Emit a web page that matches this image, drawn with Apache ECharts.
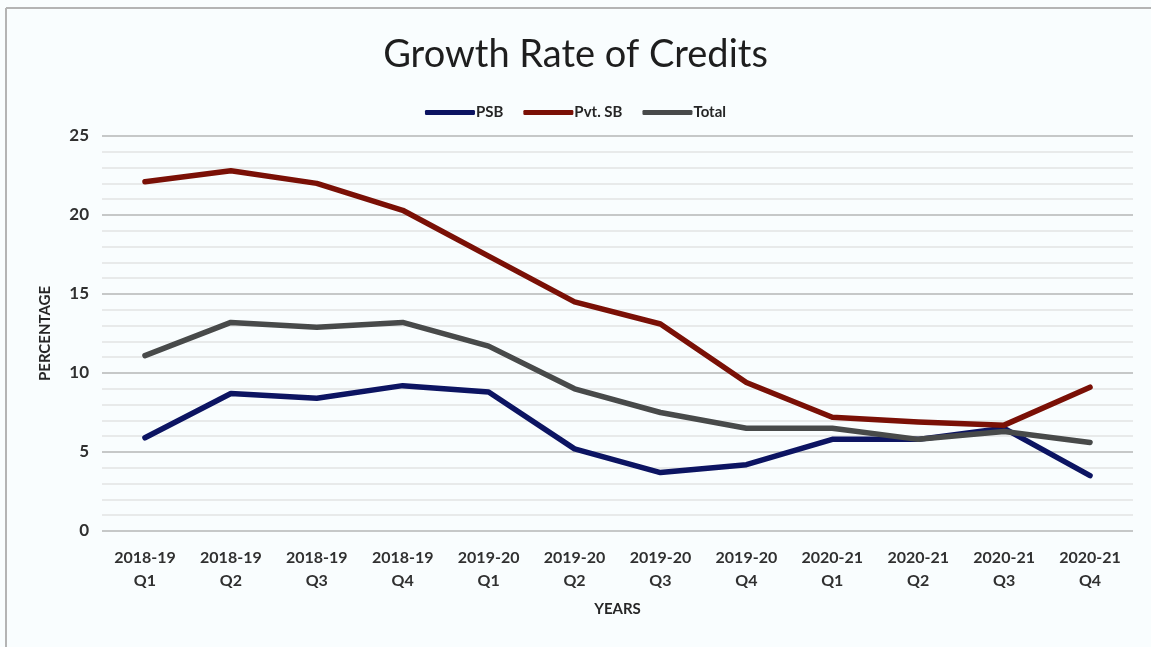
<!DOCTYPE html>
<html>
<head>
<meta charset="utf-8">
<script src="https://cdn.jsdelivr.net/npm/echarts@6/dist/echarts.min.js"></script>
<style>
  html, body { margin: 0; padding: 0; background: #f9fdfe; }
  #chart { width: 1151px; height: 647px; }
</style>
</head>
<body>
<div id="chart"></div>
<script>
// Quarterly credit growth (%) by bank group
const quarters = [
  '2018-19\nQ1', '2018-19\nQ2', '2018-19\nQ3', '2018-19\nQ4',
  '2019-20\nQ1', '2019-20\nQ2', '2019-20\nQ3', '2019-20\nQ4',
  '2020-21\nQ1', '2020-21\nQ2', '2020-21\nQ3', '2020-21\nQ4'
];
const psb   = [5.9, 8.7, 8.4, 9.2, 8.8, 5.2, 3.7, 4.2, 5.8, 5.8, 6.5, 3.5];
const pvtSb = [22.1, 22.8, 22.0, 20.3, 17.4, 14.5, 13.1, 9.4, 7.2, 6.9, 6.7, 9.1];
const total = [11.1, 13.2, 12.9, 13.2, 11.7, 9.0, 7.5, 6.5, 6.5, 5.8, 6.3, 5.6];
const yTicks = [0, 5, 10, 15, 20, 25];

const FONT = 'Lato, "Open Sans", sans-serif';

function lineSeries(name, data, color) {
  return {
    name: name,
    type: 'line',
    data: data,
    symbol: 'none',
    lineStyle: { width: 5.5, color: color, cap: 'round', join: 'round' },
    itemStyle: { color: color }
  };
}

const chart = echarts.init(document.getElementById('chart'));
chart.setOption({
  backgroundColor: '#f9fdfe',
  animation: false,
  textStyle: { fontFamily: FONT },
  graphic: [
    { type: 'line', shape: { x1: 6, y1: 8, x2: 1151, y2: 8 }, style: { stroke: '#b4b4b4', lineWidth: 2 } },
    { type: 'line', shape: { x1: 6, y1: 8, x2: 6, y2: 647 }, style: { stroke: '#b4b4b4', lineWidth: 2 } }
  ],
  title: {
    text: 'Growth Rate of Credits',
    left: 'center',
    top: 31,
    textStyle: { fontFamily: FONT, fontSize: 38, fontWeight: 'normal', color: '#1e1e1e' }
  },
  legend: {
    top: 100,
    left: 'center',
    itemWidth: 50,
    itemHeight: 5,
    itemGap: 20,
    icon: 'roundRect',
    textStyle: { fontFamily: FONT, fontSize: 15, fontWeight: 'bold', color: '#262626', padding: [0, 0, 0, -4] },
    data: ['PSB', 'Pvt. SB', 'Total']
  },
  grid: { left: 102, right: 18, top: 136, bottom: 116 },
  xAxis: {
    type: 'category',
    data: quarters,
    boundaryGap: true,
    name: 'YEARS',
    nameLocation: 'middle',
    nameGap: 71,
    nameTextStyle: { fontFamily: FONT, fontSize: 15, fontWeight: 'bold', color: '#262626' },
    axisLine: { show: false },
    axisTick: { show: false },
    axisLabel: {
      margin: 15,
      lineHeight: 23,
      fontFamily: FONT,
      fontSize: 16,
      fontWeight: 'bold',
      color: '#303030',
      interval: 0
    }
  },
  yAxis: {
    type: 'value',
    min: yTicks[0],
    max: yTicks[yTicks.length - 1],
    interval: 5,
    name: 'PERCENTAGE',
    nameLocation: 'middle',
    nameGap: 49,
    nameRotate: 90,
    nameTextStyle: { fontFamily: FONT, fontSize: 15, fontWeight: 'bold', color: '#262626' },
    axisLine: { show: false },
    axisTick: { show: false },
    axisLabel: { margin: 13, fontFamily: FONT, fontSize: 17, fontWeight: 'bold', color: '#303030' },
    splitLine: { show: true, lineStyle: { color: '#c6c8c8', width: 2 } },
    minorTick: { show: false, splitNumber: 5 },
    minorSplitLine: { show: true, lineStyle: { color: '#e2e4e4', width: 1.5 } }
  },
  series: [
    lineSeries('PSB', psb, '#0c1462'),
    lineSeries('Pvt. SB', pvtSb, '#7a1006'),
    lineSeries('Total', total, '#484a4a')
  ]
});
</script>
</body>
</html>
